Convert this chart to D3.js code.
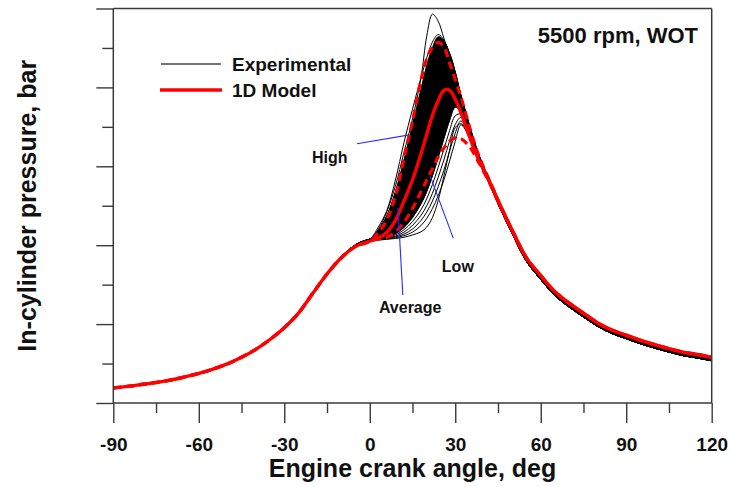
<!DOCTYPE html>
<html>
<head>
<meta charset="utf-8">
<script src="https://cdn.jsdelivr.net/npm/d3@7"></script>
<style>
  body { margin: 0; background: #fff; }
  text { font-family: "Liberation Sans", Arial, Helvetica, sans-serif; font-weight: bold; fill: #111; }
</style>
</head>
<body>
<svg id="chart" width="737" height="487"></svg>
<script>
// ---- crank angle grids, deg ----
const compressionAngles = [-90, -85, -80, -75, -70, -65, -60, -55, -50, -45, -40, -35, -30, -25, -20, -15, -10, -5, 0];
const combustionAngles  = [3, 6, 9, 12, 15, 18, 20, 22, 24, 26, 28, 30, 32, 35, 38, 42, 46];
const expansionAngles   = [50, 55, 60, 65, 70, 75, 80, 85, 90, 95, 100, 105, 110, 115, 120];

// ---- in-cylinder pressure, bar ----
const modelCompression    = [3.8, 4.2, 4.7, 5.2, 5.8, 6.6, 7.5, 8.6, 9.9, 11.6, 13.6, 16.1, 19.1, 22.8, 27.8, 32.7, 36.8, 39.7, 41.0];
const measuredCompression = [3.8, 4.2, 4.7, 5.2, 5.8, 6.6, 7.5, 8.6, 9.9, 11.6, 13.6, 16.1, 19.1, 22.8, 27.8, 32.7, 37.0, 40.1, 41.5];

const modelExpansion     = [43.8, 36.8, 32.3, 28.2, 25.3, 22.8, 20.3, 18.5, 17.2, 15.9, 14.8, 13.8, 12.9, 12.3, 11.6];
const measuredExpansionA = [43.4, 36.4, 31.9, 27.8, 24.9, 22.4, 19.9, 18.1, 16.8, 15.5, 14.4, 13.4, 12.5, 11.9, 11.2];
const measuredExpansionB = [42.9, 35.9, 31.3, 27.2, 24.3, 21.8, 19.4, 17.6, 16.3, 15.0, 13.9, 12.9, 12.0, 11.4, 10.7];

// 1D model, combustion window
const modelAverage = [41.8, 43.3, 46.3, 51.2, 56.6, 63.2, 68.1, 72.9, 76.6, 79.2, 79.3, 77.0, 73.6, 67.5, 62.0, 56.2, 49.8];
const modelHigh    = [43.2, 46.5, 52.5, 62.0, 71.5, 82.0, 87.3, 90.2, 91.4, 90.3, 86.2, 82.0, 77.6, 70.0, 63.2, 56.4, 49.8];
const modelLow     = [41.6, 42.0, 43.4, 45.8, 49.3, 53.6, 56.5, 59.4, 62.3, 64.6, 66.4, 67.2, 67.0, 65.0, 61.3, 55.8, 49.6];

// measured cycles, combustion window
const cycle01 = [44.0, 48.5, 55.0, 63.5, 72.0, 82.5, 93.0, 98.6, 96.8, 92.5, 88.0, 83.0, 78.0, 70.5, 63.5, 56.6, 49.6];
const cycle02 = [44.6, 48.8, 56.5, 66.0, 74.5, 82.5, 87.5, 91.5, 93.4, 92.0, 88.0, 83.0, 77.8, 70.3, 63.3, 56.5, 49.6];
const cycle03 = [43.8, 47.5, 53.5, 61.5, 70.5, 79.5, 85.5, 90.0, 92.8, 91.8, 88.5, 83.5, 78.0, 70.3, 63.2, 56.4, 49.5];
const cycle04 = [43.2, 46.5, 51.5, 58.0, 66.5, 76.0, 82.3, 87.5, 91.0, 91.5, 88.7, 83.5, 77.8, 70.0, 63.0, 56.3, 49.5];
const cycle05 = [42.9, 45.8, 50.0, 55.5, 63.0, 72.5, 79.0, 84.6, 88.6, 90.2, 88.6, 83.8, 77.8, 69.8, 62.9, 56.2, 49.4];
const cycle06 = [42.6, 45.0, 48.8, 53.8, 60.5, 69.5, 76.0, 82.0, 86.6, 88.8, 88.0, 84.0, 77.8, 69.7, 62.8, 56.2, 49.4];
const cycle07 = [42.4, 44.5, 47.8, 52.3, 58.5, 66.8, 73.0, 79.2, 84.3, 87.3, 87.2, 83.8, 77.6, 69.5, 62.7, 56.1, 49.3];
const cycle08 = [42.2, 44.0, 47.0, 51.0, 56.6, 64.0, 70.0, 76.2, 81.8, 85.5, 86.0, 83.2, 77.4, 69.4, 62.6, 56.1, 49.3];
const cycle09 = [42.1, 43.6, 46.2, 49.8, 54.8, 61.5, 67.0, 73.0, 78.8, 83.2, 84.5, 82.5, 77.0, 69.2, 62.5, 56.0, 49.3];
const cycle10 = [42.0, 43.3, 45.5, 48.8, 53.3, 59.3, 64.4, 70.0, 75.8, 80.6, 82.9, 81.5, 76.5, 69.0, 62.4, 56.0, 49.2];
const cycle11 = [41.9, 43.0, 44.9, 47.8, 51.8, 57.2, 61.8, 67.2, 72.8, 78.0, 81.0, 80.6, 76.0, 68.8, 62.3, 55.9, 49.2];
const cycle12 = [41.8, 42.7, 44.3, 46.9, 50.5, 55.3, 59.6, 64.6, 70.0, 75.2, 78.8, 79.4, 75.5, 68.6, 62.2, 55.9, 49.1];
const cycle13 = [41.7, 42.4, 43.8, 46.0, 49.2, 53.6, 57.5, 62.2, 67.3, 72.4, 76.4, 78.0, 75.0, 68.4, 62.1, 55.8, 49.1];
const cycle14 = [41.6, 42.2, 43.3, 45.2, 48.0, 51.9, 55.4, 59.8, 64.6, 69.6, 74.0, 76.6, 74.6, 68.2, 62.0, 55.8, 49.0];
const cycle15 = [41.6, 42.0, 42.9, 44.5, 47.0, 50.5, 53.6, 57.6, 62.2, 67.0, 71.6, 75.0, 73.9, 68.0, 61.9, 55.7, 49.0];
const cycle16 = [41.5, 41.9, 42.6, 43.9, 46.0, 49.0, 51.8, 55.4, 59.7, 64.3, 69.0, 72.8, 73.2, 67.8, 61.8, 55.7, 49.0];
const cycle17 = [41.5, 41.8, 42.3, 43.3, 45.0, 47.6, 50.0, 53.2, 57.2, 61.6, 66.4, 70.6, 72.4, 67.6, 61.7, 55.6, 48.9];
const cycle18 = [41.4, 41.7, 42.1, 42.8, 44.1, 46.3, 48.4, 51.2, 54.8, 59.0, 63.8, 68.4, 71.5, 67.4, 61.6, 55.6, 48.9];
const cycle19 = [41.4, 41.6, 41.9, 42.4, 43.3, 45.0, 46.8, 49.3, 52.5, 56.5, 61.3, 66.3, 70.5, 67.2, 61.5, 55.5, 48.8];
const cycle20 = [41.3, 41.5, 41.7, 42.0, 42.6, 43.4, 44.6, 47.0, 51.3, 57.5, 64.0, 69.8, 70.8, 67.8, 62.0, 55.6, 48.9];

const measuredCycles = [cycle01, cycle02, cycle03, cycle04, cycle05, cycle06, cycle07, cycle08, cycle09, cycle10,
                        cycle11, cycle12, cycle13, cycle14, cycle15, cycle16, cycle17, cycle18, cycle19, cycle20];

// ---- axis ticks ----
const xMajorTicks = [-90, -60, -30, 0, 30, 60, 90, 120];
const xMinorTicks = [-75, -45, -15, 15, 45, 75, 105];
const yMajorTicks = [0, 20, 40, 60, 80, 100];
const yMinorTicks = [10, 30, 50, 70, 90];

// ---- annotations (angle, pressure) ----
const pointers = [
  { label: "High",    text: [-20.3, 60.8], from: [-4.5, 65.7], to: [13.4, 67.9] },
  { label: "Average", text: [3.2, 22.7],   from: [11.6, 27.4], to: [9.9, 49.4] },
  { label: "Low",     text: [25.3, 33.2],  from: [29.3, 41.8], to: [21.2, 57.5] }
];

// ---------------------------------------------------------------
const svg = d3.select("#chart");
const x = d3.scaleLinear().domain([-90, 120]).range([113.3, 711.7]);
const y = d3.scaleLinear().domain([0, 100]).range([403, 8.5]);

const allAngles = compressionAngles.concat(combustionAngles, expansionAngles);
const toPoints = vals => allAngles.map((a, i) => [a, vals[i]]);

const line = d3.line().x(d => x(d[0])).y(d => y(d[1])).curve(d3.curveCatmullRom.alpha(0.5));

const measuredFull = measuredCycles.map((c, i) =>
  measuredCompression.concat(c, i % 2 === 0 ? measuredExpansionA : measuredExpansionB));

// dense core of the measured cycles
const coreUpper = measuredCompression.concat(cycle03, measuredExpansionA);
const coreLower = measuredCompression.concat(cycle15, measuredExpansionB);
const area = d3.area()
  .x((d, i) => x(allAngles[i]))
  .y0((d, i) => y(coreLower[i]))
  .y1((d, i) => y(coreUpper[i]))
  .curve(d3.curveCatmullRom.alpha(0.5));

const plot = svg.append("g");

plot.append("path")
  .datum(coreUpper)
  .attr("d", area)
  .attr("fill", "#000")
  .attr("stroke", "#000")
  .attr("stroke-width", 0.8);

plot.selectAll("path.cycle")
  .data(measuredFull)
  .join("path")
  .attr("class", "cycle")
  .attr("d", d => line(toPoints(d)))
  .attr("fill", "none")
  .attr("stroke", "#000")
  .attr("stroke-width", 1);

// 1D model traces
const modelAvgFull  = modelCompression.concat(modelAverage, modelExpansion);
const modelHighFull = modelCompression.concat(modelHigh, modelExpansion);
const modelLowFull  = modelCompression.concat(modelLow, modelExpansion);

plot.append("path")
  .attr("d", line(toPoints(modelAvgFull)))
  .attr("fill", "none").attr("stroke", "#ff0000").attr("stroke-width", 3.4)
  .attr("stroke-linejoin", "round");

[modelHighFull, modelLowFull].forEach(vals => {
  plot.append("path")
    .attr("d", line(toPoints(vals)))
    .attr("fill", "none").attr("stroke", "#ff0000").attr("stroke-width", 3.2)
    .attr("stroke-dasharray", "8,5");
});

// pointers
pointers.forEach(p => {
  svg.append("line")
    .attr("x1", x(p.from[0])).attr("y1", y(p.from[1]))
    .attr("x2", x(p.to[0])).attr("y2", y(p.to[1]))
    .attr("stroke", "#2a2aff").attr("stroke-width", 1.1);
  svg.append("text")
    .attr("x", x(p.text[0])).attr("y", y(p.text[1]))
    .attr("font-size", 16)
    .text(p.label);
});

// ---- axes ----
const axisColor = "#3a3a3a";
function styleAxis(g) {
  g.select(".domain").remove();
  g.selectAll("line").attr("stroke", axisColor).attr("stroke-width", 1.4);
}

const xAxis = svg.append("g").attr("transform", "translate(0,403)")
  .call(d3.axisBottom(x).tickValues(xMajorTicks).tickSize(20).tickSizeOuter(0).tickFormat(d3.format("d")));
styleAxis(xAxis);
xAxis.selectAll("text")
  .attr("y", 48).attr("dy", 0)
  .attr("font-size", 19)
  .style("font-family", "'Liberation Sans', Arial, sans-serif")
  .style("font-weight", "bold")
  .attr("fill", "#111")
  .text(d => d < 0 ? "-" + Math.abs(d) : d);

const xMinor = svg.append("g").attr("transform", "translate(0,403)")
  .call(d3.axisBottom(x).tickValues(xMinorTicks).tickSize(10).tickFormat(""));
styleAxis(xMinor);

const yAxis = svg.append("g").attr("transform", "translate(113.3,0)")
  .call(d3.axisLeft(y).tickValues(yMajorTicks).tickSize(17).tickFormat(""));
styleAxis(yAxis);
const yMinor = svg.append("g").attr("transform", "translate(113.3,0)")
  .call(d3.axisLeft(y).tickValues(yMinorTicks).tickSize(11).tickFormat(""));
styleAxis(yMinor);

// frame
const [x0, x1] = x.range();
const [yb, yt] = y.range();
const frame = svg.append("g").attr("stroke", axisColor).attr("stroke-width", 1.5).attr("fill", "none");
frame.append("line").attr("x1", x0).attr("x2", x1).attr("y1", yb).attr("y2", yb);
frame.append("line").attr("x1", x0).attr("x2", x1).attr("y1", yt).attr("y2", yt);
frame.append("line").attr("x1", x0).attr("x2", x0).attr("y1", yt).attr("y2", yb);
frame.append("line").attr("x1", x1).attr("x2", x1).attr("y1", yt).attr("y2", yb);

// ---- titles ----
svg.append("text")
  .attr("x", (x0 + x1) / 2).attr("y", 477)
  .attr("text-anchor", "middle").attr("font-size", 25)
  .text("Engine crank angle, deg");

svg.append("text")
  .attr("transform", `translate(36,${(yb + yt) / 2}) rotate(-90)`)
  .attr("text-anchor", "middle").attr("font-size", 25)
  .text("In-cylinder pressure, bar");

svg.append("text")
  .attr("x", 698).attr("y", 43)
  .attr("text-anchor", "end").attr("font-size", 22)
  .text("5500 rpm, WOT");

// ---- legend ----
const legend = svg.append("g");
legend.append("line").attr("x1", 161).attr("x2", 221).attr("y1", 64).attr("y2", 64)
  .attr("stroke", "#444").attr("stroke-width", 1.6);
legend.append("text").attr("x", 232).attr("y", 71).attr("font-size", 19).text("Experimental");
legend.append("line").attr("x1", 160).attr("x2", 222).attr("y1", 90).attr("y2", 90)
  .attr("stroke", "#ff0000").attr("stroke-width", 3.4);
legend.append("text").attr("x", 232).attr("y", 97).attr("font-size", 19).text("1D Model");
</script>
</body>
</html>
